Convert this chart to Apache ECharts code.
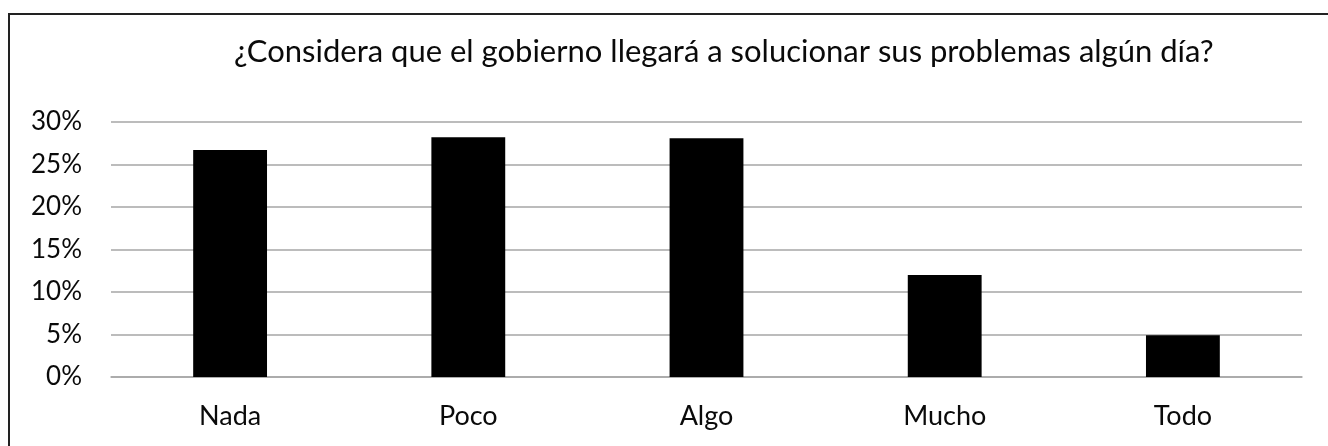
<!DOCTYPE html>
<html>
<head>
<meta charset="utf-8">
<script src="https://cdn.jsdelivr.net/npm/echarts@6/dist/echarts.min.js"></script>
<style>
html,body{margin:0;padding:0;background:#fff;}
#chart{width:1328px;height:446px;}
</style>
</head>
<body>
<div id="chart"></div>
<script>
const titleText = '¿Considera que el gobierno llegará a solucionar sus problemas algún día?';
const categories = ['Nada', 'Poco', 'Algo', 'Mucho', 'Todo'];
const values = [26.7, 28.2, 28.1, 12.0, 4.9];
const yTicks = [0, 5, 10, 15, 20, 25, 30];

const chart = echarts.init(document.getElementById('chart'), null, {renderer: 'canvas'});
const font = 'Lato, "Open Sans", sans-serif';
chart.setOption({
  animation: false,
  backgroundColor: '#fff',
  title: {
    text: titleText,
    left: 229,
    top: 31,
    textStyle: {fontFamily: font, fontSize: 31, fontWeight: 'normal', color: '#0a0a0a'}
  },
  grid: {left: 111, right: 26, top: 122, bottom: 69, containLabel: false},
  xAxis: {
    type: 'category',
    data: categories,
    axisLine: {show: true, lineStyle: {color: '#a6a6a6', width: 1.5}},
    axisTick: {show: false},
    axisLabel: {fontFamily: font, fontSize: 27, color: '#0a0a0a', margin: 26}
  },
  yAxis: {
    type: 'value',
    min: yTicks[0],
    max: yTicks[yTicks.length - 1],
    interval: yTicks[1] - yTicks[0],
    axisLine: {show: false},
    axisTick: {show: false},
    splitLine: {lineStyle: {color: '#a6a6a6', width: 1.5}},
    axisLabel: {fontFamily: font, fontSize: 26, color: '#0a0a0a', margin: 29, formatter: '{value}%'}
  },
  series: [{
    type: 'bar',
    data: values,
    barWidth: '31%',
    itemStyle: {color: '#000'}
  }],
  graphic: [{
    type: 'polyline',
    shape: {points: [[9, 446], [9, 14], [1328, 14]]},
    style: {stroke: '#222', lineWidth: 2, fill: null}
  }]
});
</script>
</body>
</html>
